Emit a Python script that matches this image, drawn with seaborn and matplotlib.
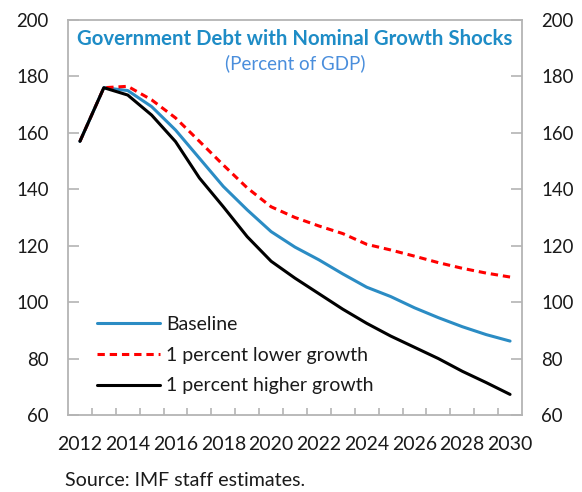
import matplotlib
matplotlib.use("Agg")
import matplotlib.pyplot as plt
from matplotlib.ticker import FixedLocator
import numpy as np
import pandas as pd
import seaborn as sns

# Debt paths, percent of GDP
years = list(range(2012, 2031))
baseline = [157, 176, 175, 169.3, 161, 151, 141, 132.7, 125, 119.5,
            115, 110, 105.3, 102, 98, 94.5, 91.3, 88.5, 86.2]
lower_growth = [157, 176, 176.5, 171.7, 165.3, 157, 148.6, 140.5, 133.8, 130,
                127, 124.3, 120.5, 118.5, 116.3, 114, 112, 110.3, 108.9]
higher_growth = [157, 176, 173.4, 166.3, 156.9, 144, 133.8, 123.2, 114.5, 108.5,
                 103, 97.5, 92.5, 88, 84, 80, 75.5, 71.5, 67.3]
series_names = ["Baseline", "1 percent lower growth", "1 percent higher growth"]
y_ticks = [60, 80, 100, 120, 140, 160, 180, 200]
x_labels = list(range(2012, 2031, 2))

df = pd.concat([
    pd.DataFrame({"year": years, "debt": vals, "scenario": name})
    for name, vals in zip(series_names, [baseline, lower_growth, higher_growth])
])

sns.set_theme(style="white")
plt.rcParams["font.family"] = ["Lato", "DejaVu Sans"]

fig = plt.figure(figsize=(5.82, 4.92), dpi=100)
ax = fig.add_axes([68 / 582, 77 / 492, 454 / 582, 395 / 492])

palette = {series_names[0]: "#2B8CC4", series_names[1]: "#FF0000", series_names[2]: "#000000"}
dashes = {series_names[0]: "", series_names[1]: (2.4, 1.6), series_names[2]: ""}
sns.lineplot(data=df, x="year", y="debt", hue="scenario", style="scenario",
             hue_order=series_names, style_order=series_names,
             palette=palette, dashes=dashes, linewidth=2.2, ax=ax)

ax.set_xlim(2011.5, 2030.5)
ax.set_ylim(60, 200)
ax.set_xlabel("")
ax.set_ylabel("")

# frame
for sp in ax.spines.values():
    sp.set_visible(True)
    sp.set_color("#B4B4B4")
    sp.set_linewidth(1.3)

# y ticks on both sides, pointing inward
ax.yaxis.set_major_locator(FixedLocator(y_ticks))
ax.tick_params(axis="y", which="major", direction="in", length=8, width=1.2,
               color="#B4B4B4", left=True, right=True, labelleft=True,
               labelright=True, labelsize=13.4, labelcolor="#1A1A1A", pad=14)
ax.set_yticklabels([str(v) for v in y_ticks])

# x axis: labels every two years, boundary ticks between categories
ax.xaxis.set_major_locator(FixedLocator(x_labels))
ax.set_xticklabels([str(v) for v in x_labels])
ax.xaxis.set_minor_locator(FixedLocator(np.arange(2012.5, 2030.5, 1.0)))
ax.tick_params(axis="x", which="major", length=0, labelsize=14,
               labelcolor="#1A1A1A", pad=15)
ax.tick_params(axis="x", which="minor", direction="in", length=5, width=1.2,
               color="#B4B4B4", bottom=True)

# heading inside the plot area
ax.text(0.5, 0.953, "Government Debt with Nominal Growth Shocks",
        transform=ax.transAxes, ha="center", va="center",
        fontsize=14.7, fontweight="bold", color="#1E8CC6")
ax.text(0.5, 0.89, "(Percent of GDP)", transform=ax.transAxes,
        ha="center", va="center", fontsize=13.5, color="#4A8EDC")

leg = ax.legend(loc="upper left", bbox_to_anchor=(0.047, 0.27), frameon=False,
                fontsize=14, handlelength=3.25, handletextpad=0.3,
                labelspacing=0.7, borderaxespad=0)
for t in leg.get_texts():
    t.set_color("#1A1A1A")

fig.text(65 / 582, 12 / 492, "Source: IMF staff estimates.", ha="left",
         va="center", fontsize=14.1, color="#1A1A1A")

fig.savefig("out.png", dpi=100)
